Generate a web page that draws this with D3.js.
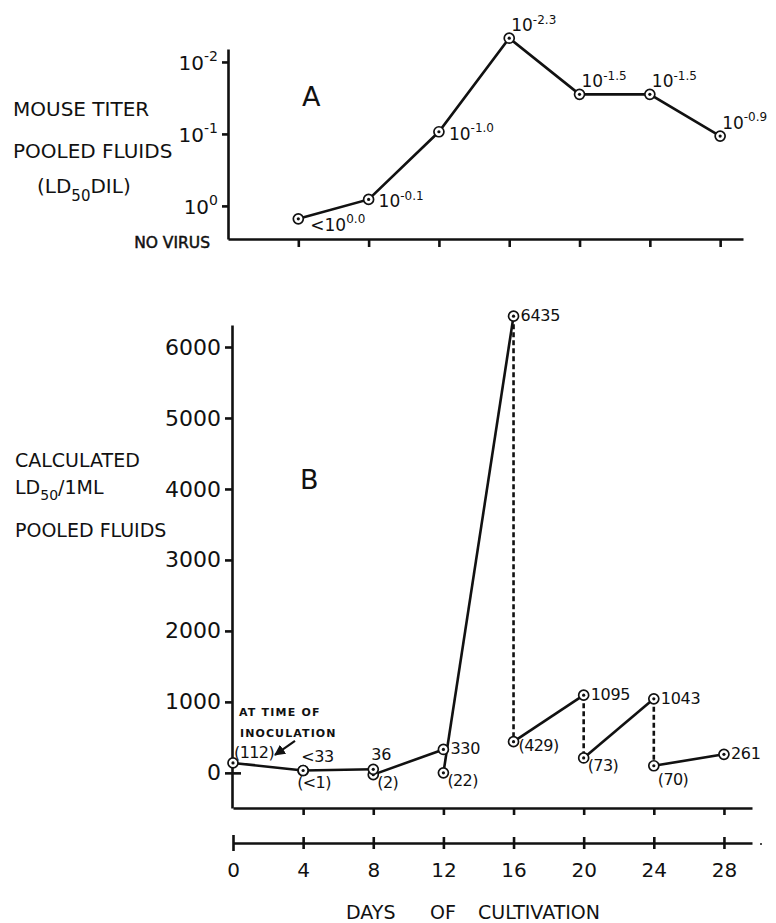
<!DOCTYPE html>
<html>
<head>
<meta charset="utf-8">
<script src="https://cdn.jsdelivr.net/npm/d3@7"></script>
<style>
  body { margin: 0; background: #fff; }
  svg { display: block; font-family: 'DejaVu Sans', sans-serif; }
  text { fill: #111; }
  .axis path, .axis line { stroke: #111; stroke-width: 2.6; }
</style>
</head>
<body>
<div id="chart"></div>
<script>
// Panel A: mouse titer of pooled fluids, as exponent of the LD50 dilution
const titerDays = [4, 8, 12, 16, 20, 24, 28];
const titerExp = [0.18, -0.09, -1.03, -2.33, -1.55, -1.55, -0.97];
const titerPrefix = ['<', '', '', '', '', '', ''];
const titerLabels = ['0.0', '-0.1', '-1.0', '-2.3', '-1.5', '-1.5', '-0.9'];
const titerTicks = [0, -1, -2];

// Panel B: calculated LD50 / 1 ml pooled fluids
const upperDays = [4, 8, 12, 16, 20, 24, 28];
const upperValues = [33, 50, 330, 6435, 1095, 1043, 261];
const upperLabels = ['<33', '36', '330', '6435', '1095', '1043', '261'];
const lowerDays = [0, 4, 8, 12, 16, 20, 24];
const lowerValues = [140, 33, -25, 0, 440, 210, 100];
const lowerLabels = ['(112)', '(<1)', '(2)', '(22)', '(429)', '(73)', '(70)'];
const dashedDays = [16, 20, 24];
const ldTicks = [0, 1000, 2000, 3000, 4000, 5000, 6000];
const dayTicks = [0, 4, 8, 12, 16, 20, 24, 28];

const width = 776, height = 923;
const ink = '#111';

const svg = d3.select('#chart').append('svg')
  .attr('width', width)
  .attr('height', height);

svg.append('defs').append('marker')
  .attr('id', 'arrow')
  .attr('viewBox', '0 0 10 10')
  .attr('refX', 9).attr('refY', 5)
  .attr('markerWidth', 5).attr('markerHeight', 5)
  .attr('orient', 'auto')
  .append('path')
  .attr('d', 'M0,0L10,5L0,10z')
  .attr('fill', ink);

// ---------- scales ----------
let xA = d3.scaleLinear().domain([0, 29.3]).range([228, 743]);
let yA = d3.scaleLog().domain([Math.pow(10, 0.46), Math.pow(10, -2.18)]).range([239, 49]);
let xB = d3.scaleLinear().domain([0, 29.6]).range([233, 752]);
let yB = d3.scaleLinear().domain([-495, 6310]).range([808, 325]);

function marker(g, x, y) {
  g.append('circle').attr('cx', x).attr('cy', y).attr('r', 5)
    .attr('fill', '#fff').attr('stroke', ink).attr('stroke-width', 1.7);
  g.append('circle').attr('cx', x).attr('cy', y).attr('r', 1.6).attr('fill', ink);
}

// power-of-ten label with a raised exponent
function powerLabel(g, x, y, prefix, exp, size, supSize, anchor) {
  let t = g.append('text')
    .attr('x', x).attr('y', y)
    .attr('font-size', size)
    .attr('text-anchor', anchor || 'start');
  t.append('tspan').text(prefix + '10');
  t.append('tspan').attr('dy', -size * 0.45).attr('font-size', supSize).text(exp);
  return t;
}

// ---------- panel A ----------
const gA = svg.append('g');

gA.append('g').attr('class', 'axis')
  .attr('transform', 'translate(228,0)')
  .call(d3.axisLeft(yA)
    .tickValues(titerTicks.map(e => Math.pow(10, e)))
    .tickSize(6).tickSizeOuter(0).tickFormat(''));

gA.append('g').attr('class', 'axis')
  .attr('transform', 'translate(0,239)')
  .call(d3.axisBottom(xA).tickValues(titerDays)
    .tickSize(8).tickSizeOuter(0).tickFormat(''));

titerTicks.forEach(e => {
  powerLabel(gA, 218, yA(Math.pow(10, e)) + 8, '', String(e), 20, 14, 'end');
});

gA.append('text').attr('x', 210).attr('y', 248)
  .attr('text-anchor', 'end').attr('font-size', 15.5)
  .attr('stroke', ink).attr('stroke-width', 0.5)
  .text('NO VIRUS');

[['MOUSE TITER', 13, 116], ['POOLED FLUIDS', 13, 158]].forEach(d => {
  gA.append('text').attr('x', d[1]).attr('y', d[2]).attr('font-size', 20).text(d[0]);
});
let ldDil = gA.append('text').attr('x', 37).attr('y', 193).attr('font-size', 20);
ldDil.append('tspan').text('(LD');
ldDil.append('tspan').attr('dy', 8).attr('font-size', 15).text('50');
ldDil.append('tspan').attr('dy', -8).text('DIL)');

gA.append('text').attr('x', 302).attr('y', 106).attr('font-size', 27).text('A');

let lineA = d3.line().x(d => xA(d[0])).y(d => yA(Math.pow(10, d[1])));
gA.append('path')
  .datum(titerDays.map((d, i) => [d, titerExp[i]]))
  .attr('d', lineA)
  .attr('fill', 'none').attr('stroke', ink).attr('stroke-width', 2.6);

const placeA = ['below', 'right', 'right', 'above', 'above', 'above', 'above'];
const offA = { below: [12, 12], right: [10, 8], above: [2, -7] };
titerDays.forEach((d, i) => {
  let x = xA(d), y = yA(Math.pow(10, titerExp[i]));
  marker(gA, x, y);
  let o = offA[placeA[i]];
  powerLabel(gA, x + o[0], y + o[1], titerPrefix[i], titerLabels[i], 17, 12);
});

// ---------- panel B ----------
const gB = svg.append('g');

gB.append('g').attr('class', 'axis')
  .attr('transform', 'translate(232,0)')
  .call(d3.axisLeft(yB).tickValues(ldTicks).tickFormat(d3.format('d'))
    .tickSize(7).tickSizeOuter(0).tickPadding(4))
  .call(g => g.selectAll('text').attr('font-size', 22).attr('font-family', 'DejaVu Sans').attr('fill', ink))
  .call(g => g.selectAll('.tick').filter(d => d === 0).select('line').attr('x1', 9));

gB.append('g').attr('class', 'axis')
  .attr('transform', 'translate(0,808)')
  .call(d3.axisBottom(xB).tickValues(upperDays)
    .tickSize(7).tickSizeOuter(0).tickFormat(''));

[['CALCULATED', 15, 467], ['POOLED FLUIDS', 15, 537]].forEach(d => {
  gB.append('text').attr('x', d[1]).attr('y', d[2]).attr('font-size', 19).text(d[0]);
});
let ldMl = gB.append('text').attr('x', 15).attr('y', 494).attr('font-size', 19);
ldMl.append('tspan').text('LD');
ldMl.append('tspan').attr('dy', 6).attr('font-size', 14).text('50');
ldMl.append('tspan').attr('dy', -6).text('/1ML');

gB.append('text').attr('x', 300).attr('y', 489).attr('font-size', 27).text('B');

// dashed drops from the accumulated value to the value after the change
dashedDays.forEach(d => {
  let i = upperDays.indexOf(d), j = lowerDays.indexOf(d);
  gB.append('line')
    .attr('x1', xB(d)).attr('x2', xB(d))
    .attr('y1', yB(upperValues[i])).attr('y2', yB(lowerValues[j]))
    .attr('stroke', ink).attr('stroke-width', 2.6)
    .attr('stroke-dasharray', '5,3');
});

let lineB = d3.line().x(d => xB(d[0])).y(d => yB(d[1]));
lowerDays.forEach((d, i) => {
  gB.append('path')
    .datum([[d, lowerValues[i]], [upperDays[i], upperValues[i]]])
    .attr('d', lineB)
    .attr('fill', 'none').attr('stroke', ink).attr('stroke-width', 2.6);
});

const offB = {
  above: [-2, -9], right: [7, 5], upright: [1, -5], rightlow: [5, 9],
  below: [-6, 17], belowright: [4, 13], under: [4, 19]
};
const upperPlace = ['above', 'above', 'right', 'right', 'right', 'right', 'right'];
const lowerPlace = ['upright', 'below', 'belowright', 'belowright', 'rightlow', 'belowright', 'under'];

lowerDays.forEach((d, i) => {
  let x = xB(d), y = yB(lowerValues[i]);
  marker(gB, x, y);
  let o = offB[lowerPlace[i]];
  gB.append('text').attr('x', x + o[0]).attr('y', y + o[1])
    .attr('font-size', 16).attr('letter-spacing', -0.6).text(lowerLabels[i]);
});
upperDays.forEach((d, i) => {
  let x = xB(d), y = yB(upperValues[i]);
  marker(gB, x, y);
  let o = offB[upperPlace[i]];
  gB.append('text').attr('x', x + o[0]).attr('y', y + o[1])
    .attr('font-size', 16).attr('letter-spacing', -0.3).text(upperLabels[i]);
});

// inoculation note
let p0 = [xB(lowerDays[0]), yB(lowerValues[0])];
gB.append('text').attr('x', p0[0] + 6).attr('y', p0[1] - 47)
  .attr('font-size', 11).attr('font-weight', 'bold').attr('letter-spacing', 1.2)
  .text('AT TIME OF');
gB.append('text').attr('x', p0[0] + 7).attr('y', p0[1] - 26)
  .attr('font-size', 11).attr('font-weight', 'bold').attr('letter-spacing', 1.1)
  .text('INOCULATION');
gB.append('line')
  .attr('x1', p0[0] + 62).attr('y1', p0[1] - 22)
  .attr('x2', p0[0] + 42).attr('y2', p0[1] - 8)
  .attr('stroke', ink).attr('stroke-width', 2.2)
  .attr('marker-end', 'url(#arrow)');

// ---------- days axis ----------
const gX = svg.append('g');
gX.append('g').attr('class', 'axis')
  .attr('transform', 'translate(0,843)')
  .call(d3.axisBottom(xB).tickValues(dayTicks)
    .tickSize(6).tickSizeOuter(0).tickPadding(14))
  .call(g => g.selectAll('.tick line').attr('y1', -6))
  .call(g => g.selectAll('.tick').filter(d => d === 0).select('line').attr('y1', -8).attr('y2', 8))
  .call(g => g.selectAll('text').attr('font-size', 20).attr('font-family', 'DejaVu Sans').attr('fill', ink));

gX.append('circle').attr('cx', 761).attr('cy', 844).attr('r', 1).attr('fill', ink);

[['DAYS', 346], ['OF', 430], ['CULTIVATION', 478]].forEach(d => {
  gX.append('text').attr('x', d[1]).attr('y', 919).attr('font-size', 19).text(d[0]);
});
</script>
</body>
</html>
